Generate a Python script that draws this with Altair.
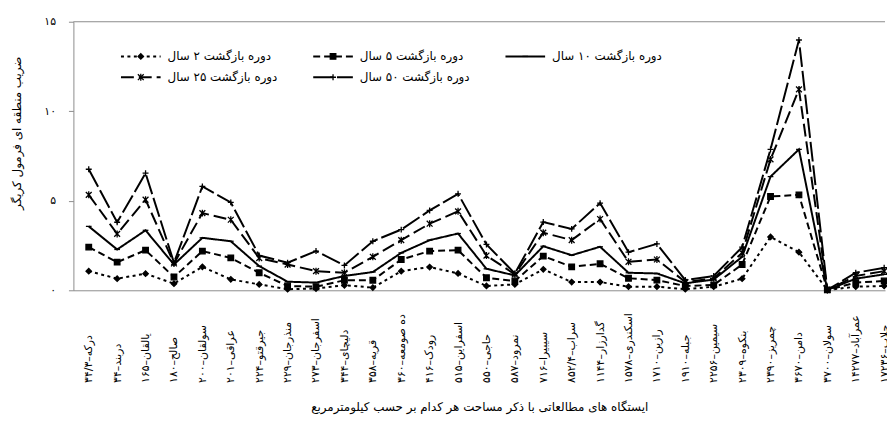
import json
import altair as alt
import pandas as pd

# ---------------- data ----------------
station_labels = [
    "درکه–۳۴/۳", "دربند–۳۴", "یالقان–۱۶۵", "صالح–۱۸۰", "سولقان–۲۰۰",
    "عراقی–۲۰۱", "جیرقتو–۲۲۴", "منذرجان–۲۲۹", "اسفرجان–۲۷۳", "دلیچای–۳۴۴",
    "قریه–۳۵۸", "ده صومعه–۳۶۰", "رودک–۴۱۶", "اسفراین–۵۱۵", "حاجی–۵۵۰",
    "نمرود–۵۸۷", "سیبیرا–۷۱۶", "سراب–۸۵۲/۴", "گدارزار–۱۱۴۴", "اسکندری–۱۵۷۸",
    "رازین–۱۷۱۰", "جبله–۱۹۱۰", "سیمین–۲۲۵۶", "بنکوه–۲۳۰۹", "چمریز–۲۳۹۰",
    "دامن–۳۶۷۰", "سولان–۳۷۰۰", "عمرآباد–۱۴۲۷۷", "حلاب–۱۷۲۳۶",
]

series_names = [
    "دوره بازگشت ۲ سال",
    "دوره بازگشت ۵ سال",
    "دوره بازگشت ۱۰ سال",
    "دوره بازگشت ۲۵ سال",
    "دوره بازگشت ۵۰ سال",
]

rp2 = [1.07, 0.65, 0.93, 0.37, 1.31, 0.61, 0.33, 0.06, 0.10, 0.28,
       0.15, 1.07, 1.30, 0.94, 0.24, 0.33, 1.17, 0.46, 0.46, 0.20,
       0.20, 0.06, 0.20, 0.65, 2.98, 2.13, 0.02, 0.20, 0.24]
rp5 = [2.41, 1.57, 2.24, 0.74, 2.19, 1.81, 0.98, 0.24, 0.20, 0.56,
       0.56, 1.72, 2.19, 2.24, 0.70, 0.52, 1.91, 1.31, 1.48, 0.67,
       0.57, 0.24, 0.30, 1.44, 5.24, 5.33, 0.02, 0.43, 0.52]
rp10 = [3.57, 2.28, 3.35, 1.44, 2.93, 2.74, 1.35, 0.48, 0.43, 0.80,
        1.02, 2.09, 2.80, 3.17, 1.20, 0.83, 2.46, 1.96, 2.43, 0.98,
        0.94, 0.39, 0.60, 1.87, 6.35, 7.87, 0.02, 0.65, 0.89]
rp25 = [5.33, 3.15, 5.06, 1.50, 4.31, 3.94, 1.80, 1.44, 1.07, 0.98,
        1.87, 2.80, 3.72, 4.41, 1.94, 0.89, 3.22, 2.80, 3.98, 1.59,
        1.72, 0.46, 0.67, 2.09, 7.31, 11.22, 0.02, 0.80, 1.07]
rp50 = [6.76, 3.80, 6.54, 1.54, 5.80, 4.91, 1.94, 1.54, 2.19, 1.39,
        2.74, 3.39, 4.46, 5.39, 2.56, 0.94, 3.81, 3.43, 4.87, 2.13,
        2.59, 0.57, 0.80, 2.41, 7.87, 13.98, 0.02, 0.98, 1.26]

y_ticks = [0, 5, 10, 15]
y_tick_labels = ["۰", "۵", "۱۰", "۱۵"]

y_title = "ضریب منطقه ای فرمول کریگر"
x_title = "ایستگاه های مطالعاتی با ذکر مساحت هر کدام بر حسب کیلومترمربع"

# ---------------- build tables ----------------
all_series = [rp2, rp5, rp10, rp25, rp50]
rows = []
for name, vals in zip(series_names, all_series):
    for i, v in enumerate(vals):
        rows.append({"idx": i, "station": station_labels[i], "series": name, "value": v})
df = pd.DataFrame(rows)

# ---------------- layout / style ----------------
PLOT_W = 819
PLOT_H = 271
FONT = "DejaVu Sans"
AXIS_GREY = "#8c8c8c"

dashes = [[3, 3.5], [7, 4], [1, 0], [13, 5], [20, 4]]
shapes = ["diamond", "square", "M-1,0L1,0", "M-1,-1L1,1M-1,1L1,-1M0,-1.2L0,1.2", "M-1,0L1,0M0,-1L0,1"]
sizes = [30, 36, 40, 70, 85]

dash_scale = alt.Scale(domain=series_names, range=dashes)
shape_scale = alt.Scale(domain=series_names, range=shapes)
size_scale = alt.Scale(domain=series_names, range=sizes)

x_scale = alt.Scale(domain=[-0.54, 28.03], nice=False, zero=False)
y_scale = alt.Scale(domain=[0, 15], nice=False)

x_enc = alt.X(
    "idx:Q",
    scale=x_scale,
    axis=alt.Axis(
        values=list(range(len(station_labels))),
        labelExpr=json.dumps(station_labels, ensure_ascii=False) + "[datum.value]",
        labelAngle=270,
        labelAlign="left",
        labelBaseline="middle",
        labelPadding=93,
        labelFontSize=11,
        labelColor="black",
        labelFont=FONT,
        ticks=False,
        tickSize=0,
        grid=False,
        domainColor=AXIS_GREY,
        labelOverlap=False,
        title=x_title,
        titleFont=FONT,
        titleFontSize=12,
        titleFontWeight="normal",
        titleColor="black",
        titleBaseline="middle",
        titleY=117,
    ),
)
y_enc = alt.Y(
    "value:Q",
    scale=y_scale,
    axis=alt.Axis(
        values=y_ticks,
        labelExpr=json.dumps(y_tick_labels, ensure_ascii=False) + "[datum.value / 5]",
        labelFontSize=11,
        labelFont=FONT,
        labelColor="black",
        labelPadding=13,
        tickSize=5,
        tickColor=AXIS_GREY,
        domainColor=AXIS_GREY,
        grid=False,
        title=y_title,
        titleFont=FONT,
        titleFontSize=12,
        titleFontWeight="normal",
        titleColor="black",
        titleBaseline="middle",
        titleX=-57,
        titleY=112,
    ),
)

lines = alt.Chart(df).mark_line(color="black", strokeWidth=2).encode(
    x=x_enc,
    y=y_enc,
    strokeDash=alt.StrokeDash("series:N", scale=dash_scale, legend=None),
    order="idx:Q",
)

points = alt.Chart(df).mark_point(
    filled=True, color="black", stroke="black", strokeWidth=1.3, opacity=1
).encode(
    x=alt.X("idx:Q", scale=x_scale, axis=None),
    y=alt.Y("value:Q", scale=y_scale, axis=None),
    shape=alt.Shape("series:N", scale=shape_scale, legend=None),
    size=alt.Size("series:O", scale=size_scale, legend=None),
)

top_border = alt.Chart(alt.Data(values=[{"a": 1}])).mark_rule(
    color=AXIS_GREY, strokeWidth=1
).encode(x=alt.value(0), x2=alt.value(PLOT_W), y=alt.value(0))

# ---------------- custom legend (Excel-like, symbol then text) ----------------
leg_rows = []
for k, name in enumerate(series_names):
    r, c = divmod(k, 3)
    x0 = 48 + c * 194
    leg_rows.append({
        "series": name,
        "lx0": x0,
        "lx1": x0 + 40,
        "lxm": x0 + 20,
        "lxt": x0 + 47,
        "ly": 35 + r * 21,
    })
leg = pd.DataFrame(leg_rows)

leg_lines = alt.Chart(leg).mark_rule(color="black", strokeWidth=2).encode(
    x=alt.X("lx0:Q", scale=None, axis=None),
    x2="lx1:Q",
    y=alt.Y("ly:Q", scale=None, axis=None),
    strokeDash=alt.StrokeDash("series:N", scale=dash_scale, legend=None),
)
leg_pts = alt.Chart(leg).mark_point(
    filled=True, color="black", stroke="black", strokeWidth=1.3, opacity=1
).encode(
    x=alt.X("lxm:Q", scale=None, axis=None),
    y=alt.Y("ly:Q", scale=None, axis=None),
    shape=alt.Shape("series:N", scale=shape_scale, legend=None),
    size=alt.Size("series:O", scale=size_scale, legend=None),
)
leg_text = alt.Chart(leg).mark_text(
    align="left", baseline="middle", font=FONT, fontSize=12, color="black"
).encode(
    x=alt.X("lxt:Q", scale=None, axis=None),
    y=alt.Y("ly:Q", scale=None, axis=None),
    text="series:N",
)

chart = (
    alt.layer(lines, points, top_border, leg_lines, leg_pts, leg_text)
    .resolve_scale(x="independent", y="independent")
    .properties(
        width=PLOT_W,
        height=PLOT_H,
        autosize=alt.AutoSizeParams(type="none"),
        padding={"left": 66, "top": 12, "right": 2, "bottom": 126},
        background="white",
    )
    .configure_view(stroke=None)
)

chart.save("out.html", embed_options={"renderer": "svg", "actions": False})
